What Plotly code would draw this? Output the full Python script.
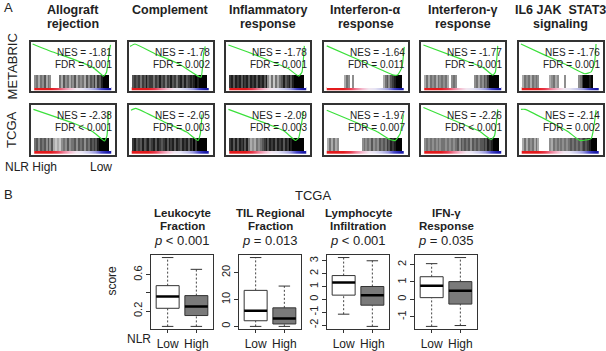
import plotly.graph_objects as go

W, H = 606, 351
FONT = "Liberation Sans, Arial, sans-serif"

# ---------------- Panel A data ----------------
GSEA_TITLE_L1 = ["Allograft", "Complement", "Inflammatory", "Interferon-α", "Interferon-γ", "IL6 JAK  STAT3"]
GSEA_TITLE_L2 = ["rejection", "", "response", "response", "response", "signaling"]
COHORTS = ["METABRIC", "TCGA"]
NES_METABRIC = [-1.81, -1.78, -1.78, -1.64, -1.77, -1.76]
NES_TCGA = [-2.38, -2.05, -2.09, -1.97, -2.26, -2.14]
FDR_METABRIC = ["= 0.001", "= 0.002", "= 0.001", "= 0.011", "= 0.001", "= 0.001"]
FDR_TCGA = ["< 0.001", "= 0.003", "= 0.003", "= 0.007", "< 0.001", "= 0.002"]

# running enrichment score curves (rank fraction, ES)
ES_X_METABRIC = [
    [0.0, 0.25, 0.5, 0.75, 0.88, 0.915, 0.95, 0.965],
    [0.0, 0.06, 0.3, 0.6, 0.84, 0.88, 0.91, 0.93],
    [0.01, 0.25, 0.5, 0.75, 0.88, 0.92, 0.95],
    [0.02, 0.42, 0.7, 0.85, 0.9, 0.95, 0.98],
    [0.01, 0.48, 0.75, 0.87, 0.9, 0.93],
    [0.01, 0.3, 0.6, 0.8, 0.88, 0.92, 0.94],
]
ES_Y_METABRIC = [
    [0.0, -0.17, -0.32, -0.50, -0.68, -0.60, -0.15, -0.02],
    [-0.05, 0.0, -0.2, -0.42, -0.68, -0.70, -0.2, -0.05],
    [-0.02, -0.17, -0.34, -0.52, -0.68, -0.60, -0.04],
    [-0.04, -0.34, -0.55, -0.66, -0.65, -0.50, -0.06],
    [-0.02, -0.32, -0.50, -0.66, -0.60, -0.04],
    [0.0, -0.23, -0.46, -0.63, -0.59, -0.42, 0.0],
]
ES_X_TCGA = [
    [0.01, 0.5, 0.75, 0.89, 0.92, 0.94],
    [0.01, 0.07, 0.45, 0.7, 0.84, 0.87, 0.89],
    [0.01, 0.45, 0.7, 0.84, 0.88, 0.94],
    [0.02, 0.4, 0.65, 0.8, 0.87, 0.93, 0.97],
    [0.01, 0.45, 0.7, 0.85, 0.89, 0.93],
    [0.01, 0.06, 0.4, 0.6, 0.74, 0.88, 0.91, 0.94],
]
ES_Y_TCGA = [
    [-0.04, -0.33, -0.52, -0.71, -0.60, -0.08],
    [-0.06, -0.02, -0.33, -0.52, -0.70, -0.55, -0.15],
    [-0.04, -0.32, -0.50, -0.70, -0.64, -0.08],
    [-0.06, -0.33, -0.52, -0.68, -0.70, -0.55, -0.15],
    [0.0, -0.32, -0.50, -0.68, -0.60, -0.04],
    [-0.04, -0.04, -0.33, -0.52, -0.70, -0.66, -0.45, -0.06],
]
# gene-set hit density along the ranked list (0 = none ... 9 = dense)
HITS_METABRIC = [
    "4535463540" "0005364535" "4635453646" "5747689990",
    "6767576867" "7576867576" "8675786867" "8789899990",
    "7868786878" "6878687868" "4252535686" "7868999990",
    "0000000003" "5404000000" "0000000003" "5646789990",
    "3535453545" "4530454000" "0000004535" "4657999990",
    "3545354540" "0000345340" "0040000004" "5799989000",
]
HITS_TCGA = [
    "5646564646" "3232454645" "5646564657" "6768999990",
    "7867686786" "7868767868" "7868768786" "8797999990",
    "7868687868" "5343545678" "6878687868" "7989999990",
    "3535340000" "0000000045" "4546454656" "5768789990",
    "4545454545" "5454545646" "5656465656" "6768789990",
    "3535453530" "0000435454" "5454565656" "5676789990",
]
# ranked-metric colour strip (NLR High -> Low)
RANK_COLORS = ["#e31a1c", "#e31a1c", "#e31a1c", "#e8384a", "#f08098", "#f5b8cc",
               "#f2e6f0", "#e6e4f4", "#c8c8ec", "#9a9ae0", "#4545c8", "#1a1aa8"]

# ---------------- Panel B data ----------------
BOX_TITLE_L1 = ["Leukocyte", "TIL Regional", "Lymphocyte", "IFN-γ"]
BOX_TITLE_L2 = ["Fraction", "Fraction", "Infiltration", "Response"]
P_VALUES = ["&lt; 0.001", "= 0.013", "&lt; 0.001", "= 0.035"]
GROUPS = ["Low", "High"]
# (lower whisker, Q1, median, Q3, upper whisker)
LEUK_LOW = [0.03, 0.23, 0.36, 0.48, 0.79]
LEUK_HIGH = [0.03, 0.15, 0.25, 0.37, 0.66]
TIL_LOW = [0.0, 2.1, 5.8, 13.4, 25.6]
TIL_HIGH = [0.0, 0.9, 2.9, 6.9, 15.0]
LYMPH_LOW = [-1.15, 0.33, 1.32, 1.85, 3.25]
LYMPH_HIGH = [-2.1, -0.45, 0.33, 1.0, 3.0]
IFNG_LOW = [-1.55, 0.1, 0.78, 1.3, 2.05]
IFNG_HIGH = [-1.5, -0.27, 0.5, 1.02, 2.4]
Y_TICKS = [[0.2, 0.4, 0.6], [0, 10, 20], [-2, -1, 0, 1, 2, 3], [-1, 0, 1, 2]]
Y_TICKTEXT = [["0.2", "", "0.6"], ["0", "10", "20"], ["-2", "-1", "0", "1", "2", "3"], ["-1", "0", "1", "2"]]

# ---------------- layout constants (pixels) ----------------
COL_LEFT = [31, 128.5, 226, 323.5, 421, 518.5]
BOX_W, BOX_H = 84, 50
ROW_TOP = [42, 106]
Y_TOP, Y_BOT = 0.05, -1.0          # GSEA axis range
PX = (Y_TOP - Y_BOT) / BOX_H


def ypx(p):
    return Y_TOP - PX * p


FRAME_LEFT = [151, 239, 327, 415]
FRAME_W = 62
FRAME_TOP, FRAME_BOT = 257, 332
BOX_FILL = ["white", "#7a7a7a"]
LINE = "#333333"

fig = go.Figure()
layout = {}
ann = []
counter = [0]


def new_axes(left, top, w, h):
    counter[0] += 1
    k = counter[0]
    sfx = "" if k == 1 else str(k)
    xd = [left / W, (left + w) / W]
    yd = [1 - (top + h) / H, 1 - top / H]
    return sfx, xd, yd


def txt(x, y, s, size, **kw):
    d = dict(x=x / W, y=1 - y / H, xref="paper", yref="paper", text=s, showarrow=False,
             font=dict(size=size, family=FONT, color=kw.pop("color", "#222")),
             xanchor=kw.pop("xanchor", "center"), yanchor=kw.pop("yanchor", "middle"),
             borderpad=0)
    d.update(kw)
    ann.append(d)


# ---------------- Panel A ----------------
txt(3, 8, "A", 13, xanchor="left")
for c in range(6):
    cx = COL_LEFT[c] + BOX_W / 2
    txt(cx, 10, "<b>" + GSEA_TITLE_L1[c] + "</b>", 12.5)
    if GSEA_TITLE_L2[c]:
        txt(cx, 24, "<b>" + GSEA_TITLE_L2[c] + "</b>", 12.5)

for r, cohort in enumerate(COHORTS):
    txt(12, ROW_TOP[r] + BOX_H / 2, cohort, 13, textangle=-90)
    es_x = [ES_X_METABRIC, ES_X_TCGA][r]
    es_y = [ES_Y_METABRIC, ES_Y_TCGA][r]
    hits = [HITS_METABRIC, HITS_TCGA][r]
    nes = [NES_METABRIC, NES_TCGA][r]
    fdr = [FDR_METABRIC, FDR_TCGA][r]
    for c in range(6):
        sfx, xd, yd = new_axes(COL_LEFT[c], ROW_TOP[r], BOX_W, BOX_H)
        xa, ya = "x" + sfx, "y" + sfx
        layout["xaxis" + sfx] = dict(domain=xd, anchor=ya, range=[-0.02, 1.02], showticklabels=False,
                                     ticks="", showgrid=False, zeroline=False, showline=True,
                                     mirror=True, linecolor="#333", linewidth=1.5, fixedrange=True)
        layout["yaxis" + sfx] = dict(domain=yd, anchor=xa, range=[Y_BOT, Y_TOP], showticklabels=False,
                                     ticks="", showgrid=False, zeroline=False, showline=True,
                                     mirror=True, linecolor="#333", linewidth=1.5, fixedrange=True)
        code = [int(ch) for ch in hits[c]]
        x0, x1 = 0.02, 0.97
        dx = (x1 - x0) / len(code)
        b_top, b_bot = ypx(33), ypx(46)
        centers = [x0 + dx * (i + 0.5) for i in range(len(code))]
        greys = ["rgb(%d,%d,%d)" % ((255 - 28 * d,) * 3) for d in code]
        fig.add_trace(go.Bar(x=centers, y=[b_top - b_bot] * len(code), base=b_bot, width=dx * 0.62,
                             marker=dict(color=greys, line=dict(width=0)), hoverinfo="skip",
                             xaxis=xa, yaxis=ya))
        n = len(RANK_COLORS)
        cs = [[i / (n - 1), col] for i, col in enumerate(RANK_COLORS)]
        dxc = (x1 - x0) / n
        s_top, s_bot = ypx(46), ypx(49)
        fig.add_trace(go.Heatmap(z=[list(range(n))], x0=x0 + dxc / 2, dx=dxc, y0=(s_top + s_bot) / 2,
                                 dy=s_top - s_bot, zmin=0, zmax=n - 1, colorscale=cs, zsmooth="best",
                                 showscale=False, hoverinfo="skip", xaxis=xa, yaxis=ya))
        fig.add_trace(go.Scatter(x=es_x[c], y=es_y[c], mode="lines",
                                 line=dict(color="#3be03b", width=1.2, shape="spline", smoothing=0.4),
                                 hoverinfo="skip", xaxis=xa, yaxis=ya))
        ann.append(dict(x=1.0, y=ypx(10.8), xref=xa, yref=ya, text="NES = %.2f" % nes[c],
                        showarrow=False, xanchor="right", yanchor="middle", borderpad=0,
                        font=dict(size=10, family=FONT, color="#222")))
        ann.append(dict(x=1.0, y=ypx(22.6), xref=xa, yref=ya, text="FDR " + fdr[c].replace("<", "&lt;"),
                        showarrow=False, xanchor="right", yanchor="middle", borderpad=0,
                        font=dict(size=10, family=FONT, color="#222")))

txt(4, 168, "NLR High", 12, xanchor="left")
txt(101, 168, "Low", 12)

# ---------------- Panel B ----------------
txt(3, 196, "B", 13, xanchor="left")
txt(313, 197, "TCGA", 13)
txt(112, 283, "score", 12, textangle=-90)
txt(139, 342, "NLR", 12)

box_data = [(LEUK_LOW, LEUK_HIGH), (TIL_LOW, TIL_HIGH), (LYMPH_LOW, LYMPH_HIGH), (IFNG_LOW, IFNG_HIGH)]
for p in range(4):
    left = FRAME_LEFT[p]
    cx = left + FRAME_W / 2
    txt(cx, 215, "<b>" + BOX_TITLE_L1[p] + "</b>", 11.5)
    txt(cx, 228, "<b>" + BOX_TITLE_L2[p] + "</b>", 11.5)
    txt(cx, 243, "<i>p</i> " + P_VALUES[p], 13)
    sfx, xd, yd = new_axes(left, FRAME_TOP, FRAME_W, FRAME_BOT - FRAME_TOP)
    xa, ya = "x" + sfx, "y" + sfx
    lo = min(s[0] for s in box_data[p])
    hi = max(s[4] for s in box_data[p])
    pad = 0.04 * (hi - lo)
    layout["xaxis" + sfx] = dict(domain=xd, anchor=ya, range=[0.42, 2.58], tickvals=[1, 2],
                                 ticktext=GROUPS, ticks="outside", ticklen=3, tickcolor=LINE,
                                 tickangle=0, tickfont=dict(size=12, family=FONT, color="#222"),
                                 showgrid=False, zeroline=False, showline=True, mirror=True,
                                 linecolor=LINE, linewidth=1, fixedrange=True)
    layout["yaxis" + sfx] = dict(domain=yd, anchor=xa, range=[lo - pad, hi + pad],
                                 tickvals=Y_TICKS[p], ticktext=Y_TICKTEXT[p], tickangle=-90,
                                 ticks="outside", ticklen=4, tickcolor=LINE,
                                 tickfont=dict(size=11, family=FONT, color="#222"),
                                 showgrid=False, zeroline=False, showline=True, mirror=True,
                                 linecolor=LINE, linewidth=1, fixedrange=True)
    for g in range(2):
        lw, q1, med, q3, uw = box_data[p][g]
        xc = g + 1
        fig.add_trace(go.Scatter(x=[xc, xc, None, xc, xc], y=[q3, uw, None, lw, q1], mode="lines",
                                 line=dict(color="#444", width=1, dash="2px,2px"),
                                 hoverinfo="skip", xaxis=xa, yaxis=ya))
        fig.add_trace(go.Scatter(x=[xc - 0.2, xc + 0.2, None, xc - 0.2, xc + 0.2],
                                 y=[uw, uw, None, lw, lw], mode="lines",
                                 line=dict(color=LINE, width=1), hoverinfo="skip", xaxis=xa, yaxis=ya))
        fig.add_trace(go.Scatter(x=[xc - 0.4, xc + 0.4, xc + 0.4, xc - 0.4, xc - 0.4],
                                 y=[q1, q1, q3, q3, q1], mode="lines", fill="toself",
                                 fillcolor=BOX_FILL[g], line=dict(color=LINE, width=1),
                                 hoverinfo="skip", xaxis=xa, yaxis=ya))
        fig.add_trace(go.Scatter(x=[xc - 0.4, xc + 0.4], y=[med, med], mode="lines",
                                 line=dict(color="black", width=2.5), hoverinfo="skip",
                                 xaxis=xa, yaxis=ya))

fig.update_layout(**layout)
fig.update_layout(width=W, height=H, margin=dict(l=0, r=0, t=0, b=0), showlegend=False,
                  paper_bgcolor="white", plot_bgcolor="white", annotations=ann,
                  font=dict(family=FONT, color="#222"), bargap=0)
fig.write_html("out.html", config={"displayModeBar": False},
               post_script="document.body.style.margin='0';document.body.style.overflow='hidden';")
